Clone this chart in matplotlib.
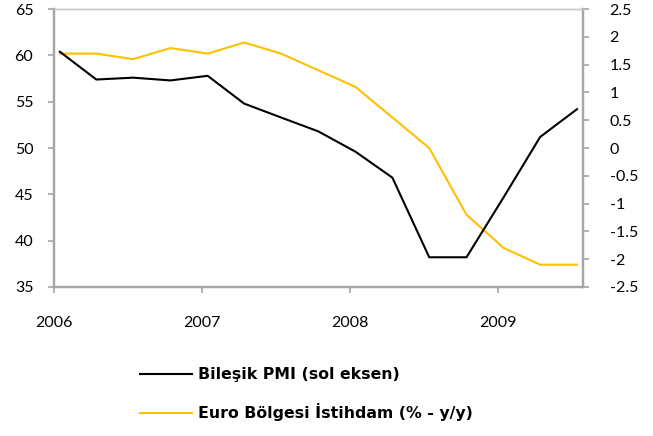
import numpy as np
import pandas as pd
import matplotlib as mpl
import matplotlib.pyplot as plt
import matplotlib.dates as mdates
from matplotlib.ticker import FuncFormatter, MultipleLocator

# Quarterly observations (mid-month of each quarter's first month)
dates = pd.to_datetime([
    "2006-01-15", "2006-04-15", "2006-07-15", "2006-10-15",
    "2007-01-15", "2007-04-15", "2007-07-15", "2007-10-15",
    "2008-01-15", "2008-04-15", "2008-07-15", "2008-10-15",
    "2009-01-15", "2009-04-15", "2009-07-15",
])
pmi = [60.4, 57.4, 57.6, 57.3, 57.8, 54.8, 53.3, 51.8,
       49.6, 46.8, 38.2, 38.2, 44.7, 51.2, 54.2]
employment = [1.7, 1.7, 1.6, 1.8, 1.7, 1.9, 1.7, 1.4,
              1.1, 0.55, 0.0, -1.2, -1.8, -2.1, -2.1]

pmi_label = "Bileşik PMI (sol eksen)"
emp_label = "Euro Bölgesi İstihdam (% - y/y)"

mpl.rcParams["font.family"] = ["Lato", "DejaVu Sans"]
mpl.rcParams["axes.unicode_minus"] = False

spine_col = "#A6A6A6"
yellow = "#FFC000"

fig = plt.figure(figsize=(6.53, 4.36), dpi=100)
ax = fig.add_axes([0.083, 0.342, 0.810, 0.637])
ax2 = ax.twinx()

l1, = ax.plot(dates, pmi, color="black", lw=1.5, label=pmi_label, zorder=3)
l2, = ax2.plot(dates, employment, color=yellow, lw=1.5, label=emp_label)
ax.set_zorder(ax2.get_zorder() + 1)
ax.patch.set_visible(False)

ax.set_xlim(pd.Timestamp("2006-01-01"), pd.Timestamp("2009-07-30"))
ax.xaxis.set_major_locator(mdates.YearLocator())
ax.xaxis.set_major_formatter(mdates.DateFormatter("%Y"))

ax.set_ylim(35, 65)
ax.yaxis.set_major_locator(MultipleLocator(5))
ax2.set_ylim(-2.5, 2.5)
ax2.yaxis.set_major_locator(MultipleLocator(0.5))
ax2.yaxis.set_major_formatter(FuncFormatter(lambda v, _: f"{v:g}"))

for a in (ax, ax2):
    for side in ("left", "right", "bottom"):
        a.spines[side].set_color(spine_col)
        a.spines[side].set_linewidth(1.6)
    a.spines["top"].set_color("#C8C8C8")
    a.spines["top"].set_linewidth(1.0)
    a.tick_params(colors=spine_col, labelcolor="black", labelsize=11.5,
                  length=4, width=1.2)

ax.tick_params(axis="x", pad=17)
ax.tick_params(axis="y", pad=11)
ax2.tick_params(axis="y", pad=15)

fig.legend(handles=[l1, l2], loc="upper left",
           bbox_to_anchor=(0.214, 0.158), frameon=False,
           prop={"family": "DejaVu Sans", "weight": "bold", "size": 11.3},
           handlelength=3.3, handletextpad=0.4, labelspacing=1.35,
           borderpad=0, borderaxespad=0)

fig.savefig("out.png", dpi=100)
